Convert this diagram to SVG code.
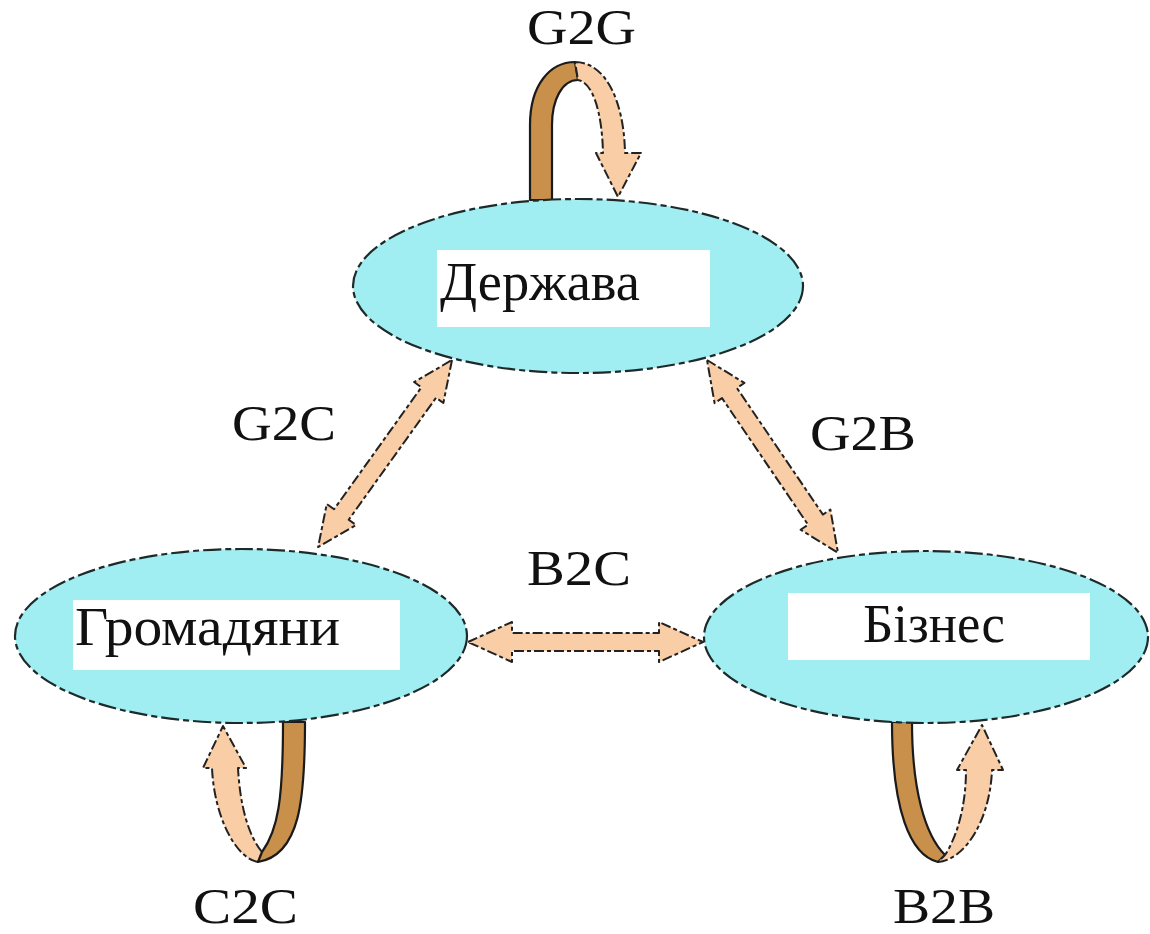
<svg xmlns="http://www.w3.org/2000/svg" width="1150" height="934" viewBox="0 0 1150 934">
<style>
.node{fill:#a0eef2;stroke:#1e2a2a;stroke-width:2.2;stroke-dasharray:18 4 6 4}
.box{fill:#ffffff}
.lbl{font-family:"Liberation Serif","Times New Roman",serif;font-size:50px;fill:#111}
.ntx{font-family:"Liberation Serif","Times New Roman",serif;font-size:54px;fill:#111}
.lt{fill:#f9cda6;stroke:#222;stroke-width:2;stroke-dasharray:10 3 4 3;stroke-linejoin:round}
.dk{fill:#c8904a;stroke:#1a1a1a;stroke-width:2.2;stroke-linejoin:round}
</style>
<rect width="1150" height="934" fill="#ffffff"/>
<g id="connectors">
  <path class="dk" d="M530,200 L530,125 C530,85 550,62 575,62 L578,80 C562,80 552,100 552,125 L552,200 Z"/>
  <path class="lt" d="M575,62 C605,62 624,100 625,153 L641,153 L618,197 L596,153 L603,153 C602,110 592,82 578,80 Z"/>
  <path class="lt" d="M258,862 C235,858 214,815 212,768 L203,768 L223,726 L246,768 L238,768 C240,805 248,835 262,852 Z"/>
  <path class="dk" d="M262,852 C278,830 283,800 283,722 L305,722 C305,800 300,855 258,862 Z"/>
  <path class="dk" d="M892,722 L912,722 C912,790 925,835 945,855 L938,862 C910,855 892,810 892,722 Z"/>
  <path class="lt" d="M938,862 C965,860 990,820 992,770 L1003,770 L982,725 L957,770 L966,770 C966,810 955,840 945,855 Z"/>
  <polygon class="lt" transform="translate(452,360) rotate(125.6)" points="0,0 40,-18 40,-9 190,-9 190,-18 230,0 190,18 190,9 40,9 40,18"/>
  <polygon class="lt" transform="translate(707,360) rotate(55.8)" points="0,0 40,-18 40,-9 193,-9 193,-18 233,0 193,18 193,9 40,9 40,18"/>
  <polygon class="lt" transform="translate(468,642)" points="0,0 44,-20 44,-9 191,-9 191,-20 235,0 191,20 191,9 44,9 44,20"/>
</g>
<g id="node-derzhava">
  <ellipse class="node" cx="578" cy="286" rx="225" ry="87"/>
  <rect class="box" x="437" y="250" width="273" height="77"/>
  <text class="ntx" x="440" y="300" textLength="200" lengthAdjust="spacingAndGlyphs">Держава</text>
</g>
<g id="node-hromadiany">
  <ellipse class="node" cx="241" cy="636" rx="226" ry="87"/>
  <rect class="box" x="73" y="600" width="327" height="70"/>
  <text class="ntx" x="75" y="645" textLength="265" lengthAdjust="spacingAndGlyphs">Громадяни</text>
</g>
<g id="node-biznes">
  <ellipse class="node" cx="926" cy="637" rx="222" ry="86"/>
  <rect class="box" x="788" y="593" width="302" height="67"/>
  <text class="ntx" x="863" y="642" textLength="142" lengthAdjust="spacingAndGlyphs">Бізнес</text>
</g>
<g id="labels">
  <text class="lbl" x="527" y="44" textLength="109" lengthAdjust="spacingAndGlyphs">G2G</text>
  <text class="lbl" x="232" y="440" textLength="104" lengthAdjust="spacingAndGlyphs">G2C</text>
  <text class="lbl" x="810" y="450" textLength="106" lengthAdjust="spacingAndGlyphs">G2B</text>
  <text class="lbl" x="527" y="585" textLength="104" lengthAdjust="spacingAndGlyphs">B2C</text>
  <text class="lbl" x="193" y="923" textLength="105" lengthAdjust="spacingAndGlyphs">C2C</text>
  <text class="lbl" x="893" y="923" textLength="102" lengthAdjust="spacingAndGlyphs">B2B</text>
</g>
</svg>
